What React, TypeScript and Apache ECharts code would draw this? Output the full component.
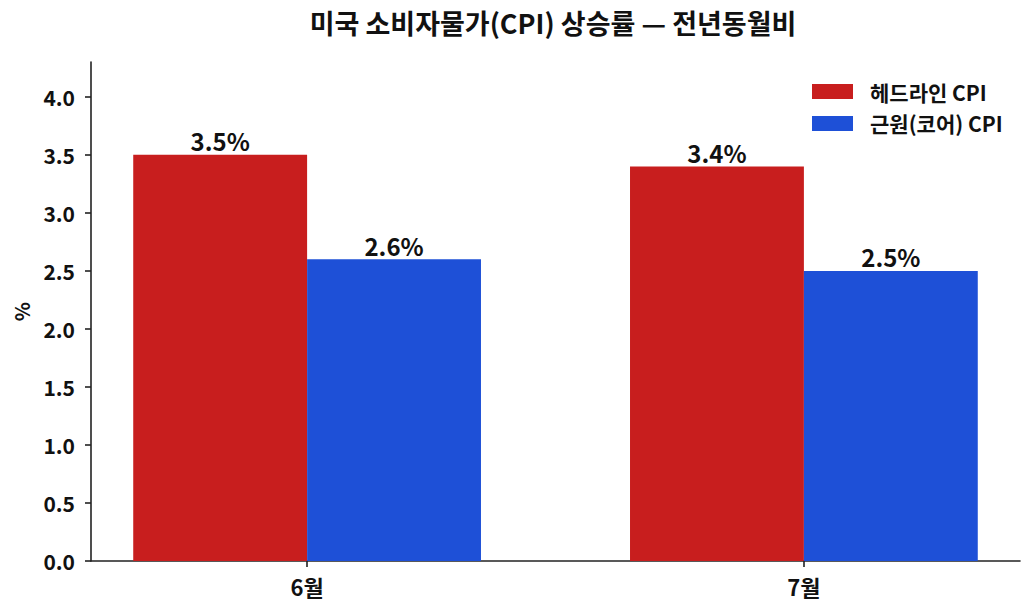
import React, { useEffect, useRef } from "react";
import * as echarts from "echarts";

const title = "미국 소비자물가(CPI) 상승률 — 전년동월비";
const months = ["6월", "7월"];
const seriesNames = ["헤드라인 CPI", "근원(코어) CPI"];
const headline = [3.5, 3.4];
const core = [2.6, 2.5];
const yTicks = [0, 0.5, 1.0, 1.5, 2.0, 2.5, 3.0, 3.5, 4.0];
const colors = ["#c81e1e", "#1e50d7"];

const FONT = "'Noto Sans CJK KR', 'Noto Sans', sans-serif";
const INK = "#111111";

export default function App() {
  const ref = useRef<HTMLDivElement>(null);
  useEffect(() => {
    document.body.style.margin = "0";
    if (!ref.current) return;
    const chart = echarts.init(ref.current, null, { renderer: "svg" });
    const xIdx = months.map((_, i) => i);
    const mk = (vals: number[]) => vals.map((v, i) => [xIdx[i], v]);
    const label = {
      show: true,
      position: "top" as const,
      distance: 2,
      color: INK,
      fontFamily: FONT,
      fontWeight: "bold" as const,
      fontSize: 24,
      formatter: (p: any) => Number(p.value[1]).toFixed(1) + "%",
    };
    chart.setOption({
      animation: false,
      backgroundColor: "#ffffff",
      title: {
        text: title,
        left: 553,
        textAlign: "center",
        top: 9,
        padding: 0,
        textStyle: { fontFamily: FONT, fontWeight: "bold", fontSize: 27, color: INK },
      },
      legend: {
        orient: "vertical",
        left: 812,
        top: 81,
        padding: 0,
        itemWidth: 41,
        itemHeight: 15,
        itemGap: 11,
        icon: "rect",
        data: seriesNames,
        textStyle: {
          fontFamily: FONT,
          fontWeight: "bold",
          fontSize: 21,
          color: INK,
          padding: [0, 0, 0, 12],
        },
      },
      grid: {
        left: 91,
        right: 15,
        top: 62,
        bottom: 54,
        containLabel: false,
        outerBoundsMode: "none",
      },
      xAxis: {
        type: "value",
        min: -0.435,
        max: 1.435,
        splitLine: { show: false },
        axisLine: { show: true, onZero: false, lineStyle: { color: "#222", width: 1.6 } },
        axisTick: {
          show: true,
          customValues: xIdx,
          length: 6,
          lineStyle: { color: "#222", width: 1.6 },
        },
        axisLabel: {
          customValues: xIdx,
          formatter: (v: number) => months[Math.round(v)] ?? "",
          margin: 14,
          fontFamily: FONT,
          fontWeight: "bold",
          fontSize: 22,
          color: INK,
        },
      },
      yAxis: {
        type: "value",
        min: 0,
        max: 4.3,
        name: "%",
        nameLocation: "middle",
        nameRotate: 90,
        nameGap: 60,
        nameTextStyle: { fontFamily: FONT, fontWeight: "bold", fontSize: 20, color: INK },
        splitLine: { show: false },
        axisLine: { show: true, onZero: false, lineStyle: { color: "#222", width: 1.6 } },
        axisTick: {
          show: true,
          customValues: yTicks,
          length: 6,
          lineStyle: { color: "#222", width: 1.6 },
        },
        axisLabel: {
          customValues: yTicks,
          formatter: (v: number) => v.toFixed(1),
          margin: 16,
          fontFamily: FONT,
          fontWeight: "bold",
          fontSize: 21,
          color: INK,
        },
      },
      series: [
        {
          name: seriesNames[0],
          type: "bar",
          data: mk(headline),
          barWidth: "35%",
          barGap: "0%",
          itemStyle: { color: colors[0] },
          label,
        },
        {
          name: seriesNames[1],
          type: "bar",
          data: mk(core),
          barWidth: "35%",
          barGap: "0%",
          itemStyle: { color: colors[1] },
          label,
        },
      ],
    });
    return () => chart.dispose();
  }, []);
  return <div ref={ref} style={{ width: 1035, height: 615 }} />;
}
